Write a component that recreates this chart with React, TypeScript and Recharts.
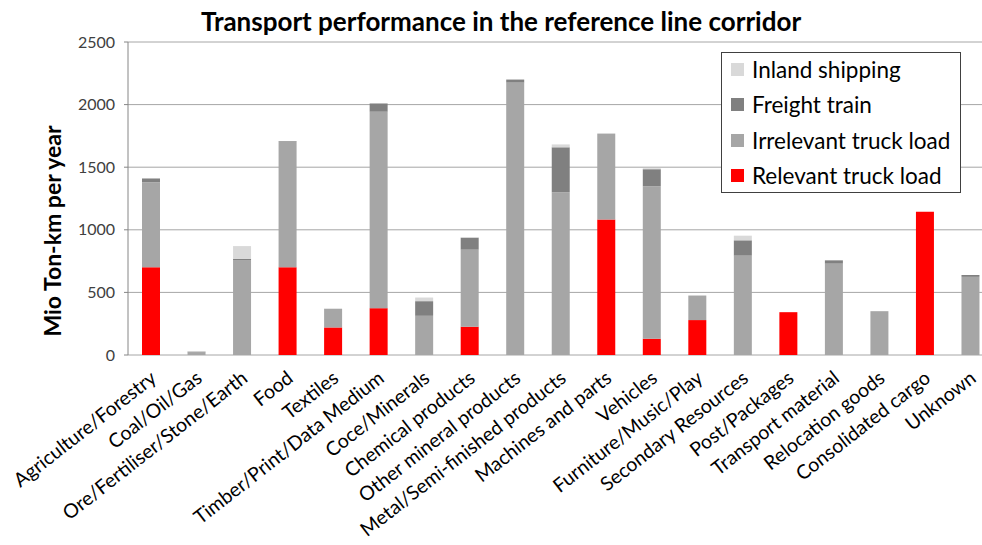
import React from 'react';
import { BarChart, Bar, XAxis, YAxis, CartesianGrid } from 'recharts';

const categories = [
    'Agriculture/Forestry', 'Coal/Oil/Gas', 'Ore/Fertiliser/Stone/Earth', 'Food', 'Textiles',
    'Timber/Print/Data Medium', 'Coce/Minerals', 'Chemical products', 'Other mineral products',
    'Metal/Semi-finished products', 'Machines and parts', 'Vehicles', 'Furniture/Music/Play',
    'Secondary Resources', 'Post/Packages', 'Transport material', 'Relocation goods',
    'Consolidated cargo', 'Unknown',
];

const relevantTruck = [700, 0, 0, 700, 220, 374, 0, 226, 0, 0, 1083, 130, 279, 0, 342, 0, 0, 1144, 0];
const irrelevantTruck = [680, 20, 756, 1004, 149, 1569, 313, 615, 2176, 1300, 682, 1218, 196, 794, 0, 730, 350, 0, 624];
const freightTrain = [30, 7, 11, 5, 0, 66, 117, 96, 24, 359, 0, 136, 0, 122, 0, 26, 0, 0, 15];
const inlandShipping = [0, 3, 103, 0, 3, 0, 29, 3, 0, 23, 8, 8, 0, 37, 0, 0, 0, 0, 0];

const yTicks = [0, 500, 1000, 1500, 2000, 2500];

const legendItems = [
    { name: 'Inland shipping', color: '#D9D9D9' },
    { name: 'Freight train', color: '#808080' },
    { name: 'Irrelevant truck load', color: '#A6A6A6' },
    { name: 'Relevant truck load', color: '#FF0000' },
];

const data = categories.map((name, i) => ({
    name,
    relevant: relevantTruck[i],
    irrelevant: irrelevantTruck[i],
    freight: freightTrain[i],
    inland: inlandShipping[i],
}));

// category boundaries for the small tick marks under the axis
const edges = [...categories.map((_, i) => i), categories.length];

const FONT = 'Lato, "Noto Sans", sans-serif';

const CategoryTick = (props: any) => {
    const { x, y, payload } = props;
    return (
        <g transform={`translate(${x - 2},${y + 14})`}>
            <text transform="rotate(-38)" textAnchor="end" x={0} y={0} dy="0.75em"
                fontSize={19.5} fill="#000" fontFamily={FONT}>
                {payload.value}
            </text>
        </g>
    );
};

const App = () => {
    return (
        <div style={{ position: 'absolute', left: 0, top: 0, width: 982, height: 545, overflow: 'hidden', background: '#fff' }}>
            <BarChart width={1000} height={545} data={data}
                margin={{ top: 42, right: 7, left: 0, bottom: 0 }}>
                <CartesianGrid vertical={false} stroke="#A6A6A6" />
                <XAxis xAxisId="edge" type="number" domain={[0, categories.length]} ticks={edges}
                    allowDataOverflow tick={false} height={0} tickSize={5}
                    axisLine={{ stroke: '#868686' }} tickLine={{ stroke: '#868686' }} />
                <XAxis dataKey="name" interval={0} height={190} axisLine={false} tickLine={false}
                    tickSize={0} tickMargin={0} tick={<CategoryTick />} />
                <YAxis width={128} domain={[0, 2500]} ticks={yTicks} interval={0} tickSize={4} tickMargin={9}
                    axisLine={{ stroke: '#868686' }} tickLine={{ stroke: '#868686' }}
                    tick={{ fontSize: 16, fill: '#404040', fontFamily: FONT }} />
                <Bar dataKey="relevant" stackId="a" fill="#FF0000" barSize={18} isAnimationActive={false} />
                <Bar dataKey="irrelevant" stackId="a" fill="#A6A6A6" barSize={18} isAnimationActive={false} />
                <Bar dataKey="freight" stackId="a" fill="#808080" barSize={18} isAnimationActive={false} />
                <Bar dataKey="inland" stackId="a" fill="#D9D9D9" barSize={18} isAnimationActive={false} />
            </BarChart>

            <div style={{ position: 'absolute', left: 0, width: 1002, top: 5, textAlign: 'center',
                fontFamily: FONT, fontWeight: 'bold', fontSize: 26, color: '#000', whiteSpace: 'nowrap' }}>
                Transport performance in the reference line corridor
            </div>

            <div style={{ position: 'absolute', left: 52, top: 231, transform: 'translate(-50%, -50%) rotate(-90deg)',
                fontFamily: FONT, fontWeight: 'bold', fontSize: 23, color: '#000', whiteSpace: 'nowrap' }}>
                Mio Ton-km per year
            </div>

            <div style={{ position: 'absolute', left: 721, top: 52, width: 240, height: 141, border: '1px solid #404040',
                background: '#fff', fontFamily: FONT, fontSize: 22.5, color: '#000', boxSizing: 'border-box' }}>
                {legendItems.map((item, i) => (
                    <div key={item.name} style={{ position: 'absolute', left: 9, top: 3 + i * 35.5, height: 26,
                        display: 'flex', alignItems: 'center', whiteSpace: 'nowrap' }}>
                        <span style={{ display: 'inline-block', width: 13, height: 13, background: item.color, marginRight: 8 }} />
                        <span>{item.name}</span>
                    </div>
                ))}
            </div>
        </div>
    );
};

export default App;
